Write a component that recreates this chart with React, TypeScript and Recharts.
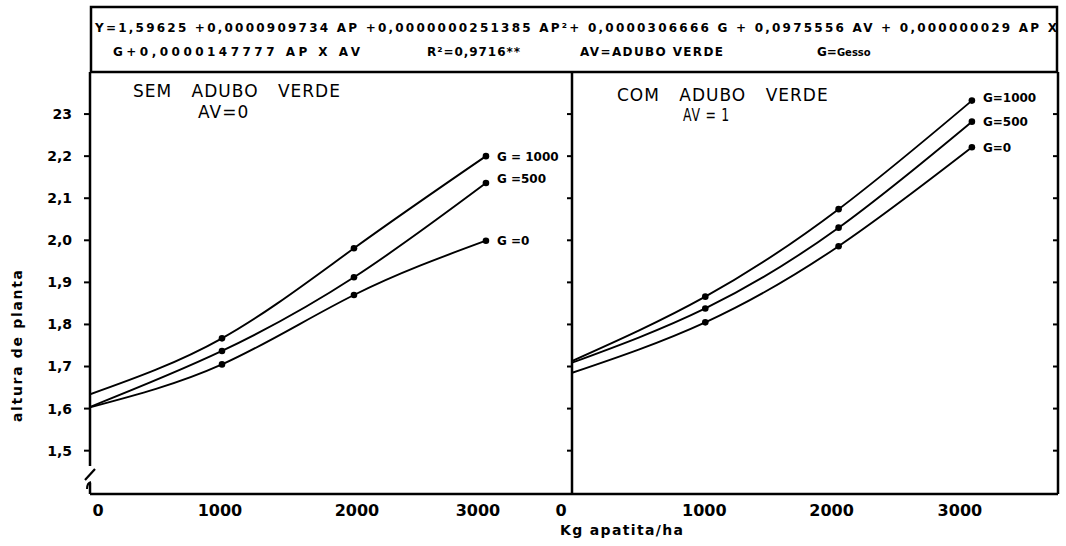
import React from "react";
import { LabelList, Line, LineChart, XAxis, YAxis } from "recharts";

// Kg apatita/ha
const apatita = [0, 1000, 2000, 3000];

// sem adubo verde (AV=0), altura de planta (m)
const semG0 = [1.603, 1.705, 1.87, 1.999];
const semG500 = [1.604, 1.737, 1.912, 2.136];
const semG1000 = [1.634, 1.767, 1.981, 2.2];

// com adubo verde (AV=1)
const comG0 = [1.685, 1.805, 1.986, 2.221];
const comG500 = [1.709, 1.838, 2.03, 2.282];
const comG1000 = [1.713, 1.866, 2.074, 2.332];

const semLabels = ["G =0", "G =500", "G = 1000"];
const comLabels = ["G=0", "G=500", "G=1000"];

const yTicks = [1.5, 1.6, 1.7, 1.8, 1.9, 2.0, 2.1, 2.2, 2.3];
const yTickLabels = ["1,5", "1,6", "1,7", "1,8", "1,9", "2,0", "2,1", "2,2", "23"];
const xTicks = [0, 1000, 2000, 3000];
const xTickLabels = ["0", "1000", "2000", "3000"];

const FONT = "'DejaVu Sans', Verdana, sans-serif";
const Y_DOMAIN: [number, number] = [1.397, 2.4];

function toRows(g0: number[], g500: number[], g1000: number[]) {
  return apatita.map((ap, i) => ({ ap, g0: g0[i], g500: g500[i], g1000: g1000[i] }));
}

const semData = toRows(semG0, semG500, semG1000);
const comData = toRows(comG0, comG500, comG1000);

function renderDot(props: any) {
  const { cx, cy, index } = props;
  if (index === 0 || cx == null || cy == null) return <g key={`d-${index}`} />;
  return <circle key={`d-${index}`} cx={cx} cy={cy} r={3.3} fill="#000" />;
}

function endLabel(text: string, dy: number) {
  return (props: any) => {
    const { x, y, index } = props;
    if (index !== apatita.length - 1) return null;
    return (
      <text x={Number(x) + 11} y={Number(y) + dy + 4.4} fontFamily={FONT} fontWeight="bold" fontSize={12} fill="#000">
        {text}
      </text>
    );
  };
}

function xTick(offsets: number[]) {
  return (props: any) => {
    const { x, y, payload } = props;
    const i = xTicks.indexOf(payload.value);
    return (
      <text x={x + (offsets[i] ?? 0)} y={y} dy="0.71em" textAnchor="middle" fontFamily={FONT} fontWeight="bold" fontSize={16} fill="#000">
        {xTickLabels[i] ?? ""}
      </text>
    );
  };
}

const yTickFormat = (v: number) => yTickLabels[yTicks.indexOf(v)] ?? "";

export default function App() {
  const axisStroke = { stroke: "#000", strokeWidth: 2.5 };
  const lineProps = {
    type: "natural" as const,
    stroke: "#000",
    strokeWidth: 1.9,
    dot: renderDot,
    activeDot: false as const,
    isAnimationActive: false,
  };

  return (
    <div style={{ position: "fixed", left: 0, top: 0, width: 1066, height: 546, background: "#fff", overflow: "hidden" }}>
      <div style={{ position: "absolute", left: 0, top: 60 }}>
        <LineChart width={590} height={490} data={semData} margin={{ top: 12, right: 18, left: 0, bottom: 26 }}>
          <XAxis
            dataKey="ap"
            type="number"
            domain={[0, 3652]}
            ticks={xTicks}
            allowDataOverflow
            tickLine={false}
            tickMargin={5}
            height={30}
            axisLine={axisStroke}
            tick={xTick([8, -2, 3, -8])}
          />
          <YAxis
            type="number"
            domain={Y_DOMAIN}
            ticks={yTicks}
            allowDataOverflow
            width={90}
            tickSize={6}
            tickMargin={12}
            tickLine={{ stroke: "#000", strokeWidth: 2 }}
            axisLine={axisStroke}
            tickFormatter={yTickFormat}
            tick={{ fontFamily: FONT, fontWeight: "bold", fontSize: 14, fill: "#000" }}
          />
          <Line dataKey="g0" {...lineProps}>
            <LabelList dataKey="g0" content={endLabel(semLabels[0], 0)} />
          </Line>
          <Line dataKey="g500" {...lineProps}>
            <LabelList dataKey="g500" content={endLabel(semLabels[1], -4)} />
          </Line>
          <Line dataKey="g1000" {...lineProps}>
            <LabelList dataKey="g1000" content={endLabel(semLabels[2], 0)} />
          </Line>
        </LineChart>
      </div>

      <div style={{ position: "absolute", left: 482, top: 60 }}>
        <LineChart width={590} height={490} data={comData} margin={{ top: 12, right: 4, left: 0, bottom: 26 }}>
          <XAxis
            dataKey="ap"
            type="number"
            domain={[0, 3646]}
            ticks={xTicks}
            allowDataOverflow
            tickLine={false}
            tickMargin={5}
            height={30}
            axisLine={axisStroke}
            tick={xTick([-11, -1, -7, -12])}
          />
          <YAxis
            yAxisId={0}
            type="number"
            domain={Y_DOMAIN}
            ticks={yTicks}
            allowDataOverflow
            width={90}
            tickSize={5}
            tickLine={{ stroke: "#000", strokeWidth: 2 }}
            axisLine={axisStroke}
            tickFormatter={() => ""}
          />
          <YAxis
            yAxisId="r"
            orientation="right"
            type="number"
            domain={Y_DOMAIN}
            ticks={yTicks}
            allowDataOverflow
            width={10}
            tickSize={-5}
            tickLine={{ stroke: "#000", strokeWidth: 2 }}
            axisLine={axisStroke}
            tickFormatter={() => ""}
          />
          <Line dataKey="g0" {...lineProps}>
            <LabelList dataKey="g0" content={endLabel(comLabels[0], 0)} />
          </Line>
          <Line dataKey="g500" {...lineProps}>
            <LabelList dataKey="g500" content={endLabel(comLabels[1], 0)} />
          </Line>
          <Line dataKey="g1000" {...lineProps}>
            <LabelList dataKey="g1000" content={endLabel(comLabels[2], -3)} />
          </Line>
        </LineChart>
      </div>

      <svg width={1066} height={546} style={{ position: "absolute", left: 0, top: 0, pointerEvents: "none" }}>
        {/* equation box */}
        <rect x={91} y={7} width={966} height={65} fill="none" stroke="#000" strokeWidth={2.5} />
        <g fontFamily={FONT} fontWeight="bold" fontSize={12} fill="#000">
          <text x={95} y={31.5} textLength={962} lengthAdjust="spacing">
            Y=1,59625 +0,0000909734 AP +0,0000000251385 AP²+ 0,0000306666 G + 0,0975556 AV + 0,000000029 AP X
          </text>
          <text x={113} y={55.5} textLength={247} lengthAdjust="spacing">G+0,0000147777 AP X AV</text>
          <text x={427} y={55.5} textLength={93} lengthAdjust="spacing">R²=0,9716**</text>
          <text x={580} y={55.5} textLength={143} lengthAdjust="spacing">AV=ADUBO VERDE</text>
          <text x={817} y={55.5}>
            G=<tspan fontSize={10}>Gesso</tspan>
          </text>
        </g>

        {/* panel titles */}
        <g fontFamily={FONT} fontSize={17} fill="#000" letterSpacing={1}>
          <text x={133} y={97} wordSpacing={13}>SEM ADUBO VERDE</text>
          <text x={198} y={118}>AV=0</text>
          <text x={617} y={101} wordSpacing={13}>COM ADUBO VERDE</text>
          <text x={683} y={121} textLength={47} lengthAdjust="spacingAndGlyphs">AV = 1</text>
        </g>

        {/* axis titles */}
        <g fontFamily={FONT} fontWeight="bold" fontSize={14} fill="#000">
          <text x={0} y={0} transform="translate(22 346) rotate(-90)" textAnchor="middle" textLength={152} lengthAdjust="spacing">
            altura de planta
          </text>
          <text x={560} y={535} textLength={123} lengthAdjust="spacing">Kg apatita/ha</text>
        </g>

        {/* axis break */}
        <rect x={85} y={466} width={10} height={17} fill="#fff" />
        <path d="M85 480 L95 469" stroke="#000" strokeWidth={2.2} fill="none" />
        <path d="M87 489 Q87 483 91 482" stroke="#000" strokeWidth={2} fill="none" />
      </svg>
    </div>
  );
}
